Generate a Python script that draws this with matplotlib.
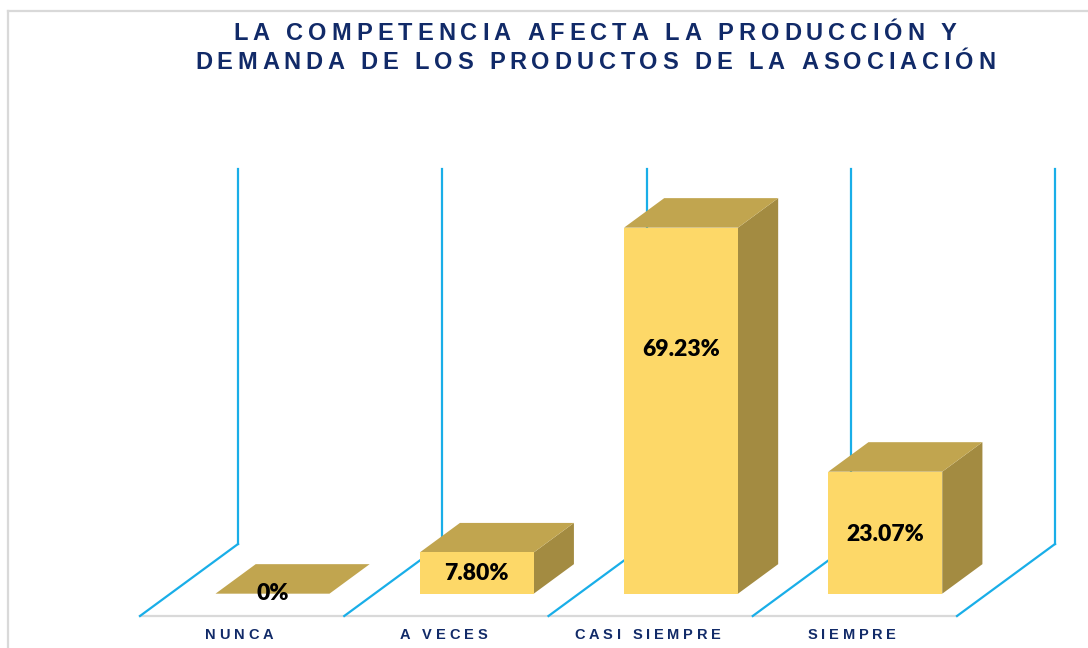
import matplotlib
matplotlib.use("Agg")
import matplotlib.pyplot as plt
from matplotlib.patches import Polygon
from matplotlib.lines import Line2D
from matplotlib.font_manager import FontProperties
from matplotlib.transforms import IdentityTransform

# data
categories = ["NUNCA", "A VECES", "CASI SIEMPRE", "SIEMPRE"]
values = [0.0, 7.80, 69.23, 23.07]
labels = ["0%", "7.80%", "69.23%", "23.07%"]
label_height = [0.0, 3.9, 46.2, 11.2]   # where Excel put the value text on the front face
title_lines = ["LA COMPETENCIA AFECTA LA PRODUCCIÓN Y",
               "DEMANDA DE LOS PRODUCTOS DE LA ASOCIACIÓN"]
axis_max = 71

# colours
front_col = "#FDD868"
top_col = "#C1A54F"
side_col = "#A38B41"
wall_col = "#19AEE8"
navy = "#112A68"

W, H = 1088, 648
fig = plt.figure(figsize=(W / 100, H / 100), dpi=100)
ax = fig.add_axes([0, 0, 1, 1])
sx, sy = 204.25, 5.287          # px per category / px per percent
ax.set_xlim(-0.5 - 140 / sx, -0.5 + (W - 140) / sx)
ax.set_ylim(-(H - 616) / sy, 616 / sy)
ax.axis("off")

# floor depth vector (data units)
dx, dy = 98 / sx, 72 / sy
f0, fd = 0.31, 0.41   # bar front depth, bar thickness (fraction of floor)
bw = 0.558

# walls / floor lines
n = len(categories)
ax.plot([-0.5, n - 0.5], [0, 0], color="#D9D9D9", lw=1.6, zorder=1)
for k in range(n + 1):
    xk = -0.5 + k
    ax.plot([xk, xk + dx], [0, dy], color=wall_col, lw=1.6, zorder=2)
    ax.plot([xk + dx, xk + dx], [dy, dy + axis_max], color=wall_col, lw=1.6, zorder=2)

# 3d bars
bdx, bdy = fd * dx, fd * dy
for i, v in enumerate(values):
    x0 = i - bw / 2 + f0 * dx
    yb = f0 * dy
    yt = yb + v
    if v > 0:
        ax.add_patch(Polygon([(x0 + bw, yb), (x0 + bw + bdx, yb + bdy),
                              (x0 + bw + bdx, yt + bdy), (x0 + bw, yt)],
                             closed=True, fc=side_col, ec="none", zorder=3))
    ax.add_patch(Polygon([(x0, yt), (x0 + bw, yt), (x0 + bw + bdx, yt + bdy),
                          (x0 + bdx, yt + bdy)],
                         closed=True, fc=top_col, ec="none", zorder=3))
    if v > 0:
        ax.add_patch(Polygon([(x0, yb), (x0 + bw, yb), (x0 + bw, yt), (x0, yt)],
                             closed=True, fc=front_col, ec="none", zorder=4))
    ax.text(x0 + bw / 2, yb + label_height[i], labels[i], ha="center", va="center",
            fontsize=16.5, fontweight="heavy", family=["Lato", "DejaVu Sans"],
            color="black", zorder=5)

# letter-spaced text helper (display px, baseline)
renderer = fig.canvas.get_renderer()


def spaced(cx, y, s, size, gap, color):
    prop = FontProperties(family=["Liberation Sans", "DejaVu Sans"], weight="bold", size=size)
    ws = []
    for ch in s:
        if ch == " ":
            ws.append(size * 0.28 * 100 / 72)
        else:
            w, h, d = renderer.get_text_width_height_descent(ch, prop, ismath=False)
            ws.append(w)
    total = sum(ws) + gap * (len(s) - 1)
    x = cx - total / 2
    for ch, w in zip(s, ws):
        if ch != " ":
            fig.text(x, y, ch, fontproperties=prop, color=color, ha="left",
                     va="baseline", transform=IdentityTransform())
        x += w + gap


spaced(595, H - 40, title_lines[0], 17, 5.0, navy)
spaced(595, H - 69, title_lines[1], 17, 4.8, navy)

for i, c in enumerate(categories):
    px, _ = ax.transData.transform((i, 0))
    spaced(px - 3, H - 639, c, 10.5, 3.8, navy)

# outer border
fig.add_artist(Line2D([8 / W, 8 / W], [0, (H - 11) / H], color="#D9D9D9", lw=1.6))
fig.add_artist(Line2D([8 / W, 1], [(H - 11) / H, (H - 11) / H], color="#D9D9D9", lw=1.6))

fig.savefig("out.png", dpi=100)
